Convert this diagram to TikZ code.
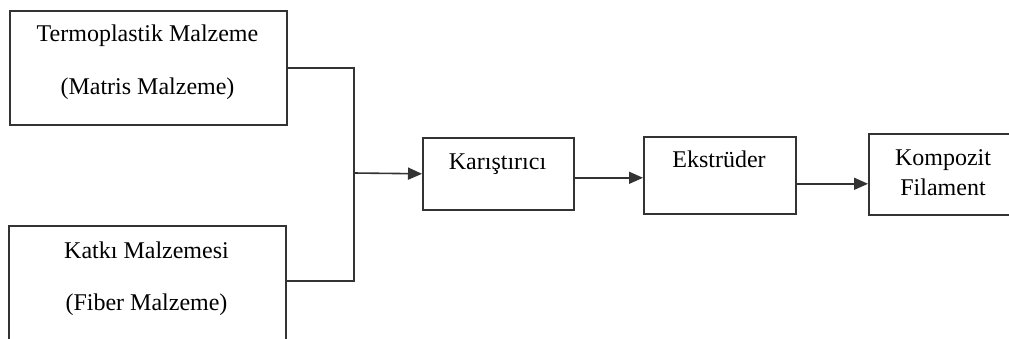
\documentclass[tikz,border=0pt]{standalone}
\usepackage{fontspec}
\setmainfont{Liberation Serif}
\usetikzlibrary{arrows.meta}
\begin{document}
\begin{tikzpicture}[x=1pt,y=-1pt,
  box/.style={draw=black!80, line width=1.6pt, inner sep=0pt, anchor=north west},
  lbl/.style={font=\fontsize{24}{28}\selectfont, anchor=base, text=black, inner sep=0pt},
  wire/.style={draw=black!80, line width=1.6pt},
  arr/.style={wire, -{Triangle[length=14pt,width=12pt]}}]
\useasboundingbox (0,0) rectangle (1009,338);
\clip (0,0) rectangle (1009,338);

% input boxes
\node[box, minimum width=277pt, minimum height=114pt] (b1) at (9,10) {};
\node[box, minimum width=277pt, minimum height=140pt] (b2) at (8,225) {};
% process boxes
\node[box, minimum width=151pt, minimum height=72pt] (mix) at (422,137) {};
\node[box, minimum width=152pt, minimum height=77pt] (eks) at (643,136) {};
\node[box, minimum width=150pt, minimum height=81pt] (kom) at (868,133) {};

% labels
\node[lbl] (t1a) at (147.5,41) {Termoplastik Malzeme};
\node[lbl] (t1b) at (147.5,94) {(Matris Malzeme)};
\node[lbl] (t2a) at (146.5,258) {Katkı Malzemesi};
\node[lbl] (t2b) at (146.5,310) {(Fiber Malzeme)};
\node[lbl] (tmix) at (497.5,169) {Karıştırıcı};
\node[lbl] (teks) at (719,167) {Ekstrüder};
\node[lbl] (tkom1) at (943,165) {Kompozit};
\node[lbl] (tkom2) at (943,195) {Filament};

% connectors
\coordinate (j) at (354,173);
\coordinate (b2out) at (285,281);
\draw[wire] (b1.east) -| (j) |- (b2out);
\draw[arr] (j) -- (mix.west);
\draw[arr] ([yshift=-4pt]mix.east) -- ([yshift=-4pt]mix.east -| eks.west);
\draw[arr] ([yshift=-8.5pt]eks.east) -- ([yshift=-8.5pt]eks.east -| kom.west);
\end{tikzpicture}
\end{document}
